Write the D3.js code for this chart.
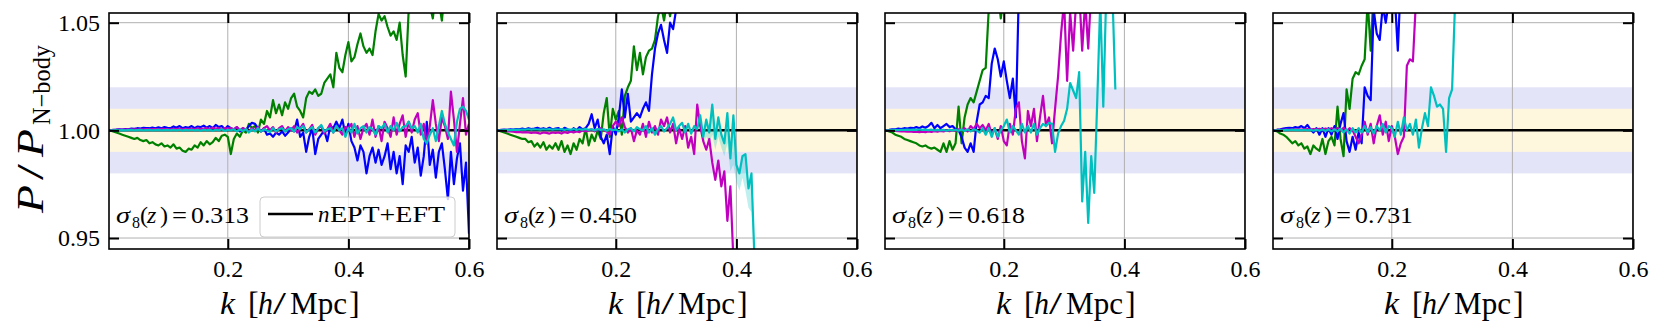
<!DOCTYPE html>
<html>
<head>
<meta charset="utf-8">
<script src="https://cdn.jsdelivr.net/npm/d3@7"></script>
<style>
  html, body { margin: 0; padding: 0; background: #fff; }
  svg { display: block; }
  text { font-family: "Liberation Serif", "Times New Roman", "DejaVu Serif", serif; fill: #000; }
</style>
</head>
<body>
<div id="chart"></div>
<script>
// k bins [h/Mpc], shared by every curve
const kBins = [
  0.005,0.01,0.015,0.02,0.025,0.03,0.035,0.04,0.045,0.05,0.055,0.06,0.065,0.07,0.075,0.08,0.085,0.09,0.095,0.1,
  0.105,0.11,0.115,0.12,0.125,0.13,0.135,0.14,0.145,0.15,0.155,0.16,0.165,0.17,0.175,0.18,0.185,0.19,0.195,0.2,
  0.205,0.21,0.215,0.22,0.225,0.23,0.235,0.24,0.245,0.25,0.255,0.26,0.265,0.27,0.275,0.28,0.285,0.29,0.295,0.3,
  0.305,0.31,0.315,0.32,0.325,0.33,0.335,0.34,0.345,0.35,0.355,0.36,0.365,0.37,0.375,0.38,0.385,0.39,0.395,0.4,
  0.405,0.41,0.415,0.42,0.425,0.43,0.435,0.44,0.445,0.45,0.455,0.46,0.465,0.47,0.475,0.48,0.485,0.49,0.495,0.5,
  0.505,0.51,0.515,0.52,0.525,0.53,0.535,0.54,0.545,0.55,0.555,0.56,0.565,0.57,0.575,0.58,0.585,0.59,0.595,0.6
];

// P/P_N-body - 1, in percent (curves stop once they leave the frame)
// panel 1, sigma8(z)=0.313
const green1 = [
  0,-0.05,-0.1,-0.15,-0.2,-0.25,-0.3,-0.35,-0.4,-0.35,-0.45,-0.5,-0.45,-0.6,-0.55,-0.65,-0.7,-0.6,-0.75,-0.7,
  -0.8,-0.65,-0.85,-0.8,-0.95,-1.0,-0.85,-0.9,-0.7,-0.8,-0.55,-0.7,-0.5,-0.65,-0.55,-0.35,-0.5,-0.25,-0.2,-0.3,
  -1.1,-0.4,-0.15,-0.3,0.0,-0.1,0.3,0.1,0.2,-0.1,0.5,0.3,0.9,0.6,1.4,0.8,1.2,0.7,1.3,1.0,
  1.5,1.7,1.1,0.9,0.6,1.5,1.8,1.7,1.9,1.6,1.7,2.2,2.4,2.6,2.0,3.6,2.9,2.7,3.5,4.1,
  3.2,3.4,4.0,4.5,3.9,3.6,3.8,3.5,4.6,5.4,5.1,5.3,4.8,4.4,4.6,4.2,5.0,3.5,2.5,5.6,
  6.2,5.6,6.5,6.0,6.8,6.2,5.8,5.2,6.4,6.0,5.1,6.5,7.0,7.0,7.0,7.0,7.0,7.0,7.0,7.0
];
const blue1 = [
  0,0.02,0.03,0.05,0.04,0.06,0.05,0.08,0.07,0.1,0.08,0.12,0.1,0.1,0.13,0.1,0.14,0.1,0.15,0.12,
  0.1,0.18,0.12,0.2,0.1,0.15,0.12,0.2,0.1,0.18,0.15,0.22,0.12,0.2,0.1,0.25,0.15,0.2,0.05,0.2,
  0.1,0.05,0.15,-0.05,0.1,0.0,0.2,0.35,0.3,0.1,-0.05,0.1,-0.2,-0.15,-0.3,-0.1,-0.2,-0.05,-0.25,-0.1,
  0.1,-0.05,0.5,-0.3,-0.1,-1.0,-0.3,0.1,-1.1,-0.4,-0.2,0.0,-0.5,0.2,0.1,0.4,0.1,0.5,-0.2,0.3,
  -0.5,-0.8,-1.4,-0.7,-1.0,-2.0,-1.2,-0.8,-1.5,-0.9,-1.6,-1.2,-0.6,-1.8,-1.0,-2.0,-1.2,-2.5,-0.7,-1.0,
  -0.3,-1.5,-0.8,-2.1,-1.2,0.4,-1.6,-0.9,-2.2,-1.0,-0.6,-1.8,-3.2,-1.0,-2.5,-1.3,-0.6,-2.8,-1.5,-4.8
];
const magenta1 = [
  0,0.01,0.02,0.02,0.03,0.03,0.04,0.04,0.05,0.04,0.05,0.05,0.06,0.05,0.06,0.06,0.05,0.07,0.06,0.06,
  0.05,0.07,0.06,0.08,0.05,0.07,0.06,0.08,0.05,0.1,0.06,0.08,0.1,0.05,0.12,0.08,0.1,0.06,0.1,0.08,
  0.1,0.05,0.15,0.0,0.1,0.05,-0.05,0.1,0.0,0.15,-0.05,0.1,0.2,0.0,0.15,-0.1,0.1,0.2,-0.05,0.15,
  0.0,0.2,-0.1,0.1,0.3,-0.1,0.05,0.25,-0.2,0.1,0.2,-0.15,0.05,0.3,-0.1,0.2,0.0,-0.2,0.15,0.1,
  0.3,-0.3,0.2,-0.4,0.1,0.3,-0.2,0.5,-0.3,0.2,-0.5,0.4,0.1,-0.3,0.6,-0.2,0.3,0.7,-0.3,0.4,
  -0.1,0.5,0.8,-0.2,0.3,-0.6,0.2,1.4,0.3,-0.5,0.6,0.2,-0.4,1.8,0.5,-1.0,0.3,1.5,-0.2,0.3
];
const cyan1 = [
  0,0,0.01,0,0.01,0,0.01,0.02,0,0.01,0.02,0,0.01,0.02,0,0.01,0.02,0,0.01,0.02,
  0.0,0.02,0.0,0.03,-0.01,0.02,0.0,0.03,0.0,0.02,-0.02,0.03,0.0,0.02,-0.02,0.03,0.0,0.05,-0.03,0.03,
  0.0,0.05,-0.05,0.05,-0.03,0.06,-0.1,0.05,-0.05,0.1,-0.05,0.05,0.0,-0.08,0.1,-0.05,0.05,0.1,-0.05,0.05,
  0.1,-0.05,0.15,0.05,0.2,-0.1,0.05,0.15,-0.1,0.1,0.25,-0.05,0.05,0.1,-0.1,0.2,0.0,0.1,-0.3,0.1,
  -0.1,0.3,-0.15,0.1,0.2,-0.1,0.15,0.05,-0.2,0.2,0.1,0.3,-0.1,0.2,0.0,0.35,-0.05,0.15,0.2,0.4,
  0.1,0.2,-0.1,0.3,-0.4,-0.6,-0.2,0.1,-0.5,0.2,0.9,0.3,-0.1,-0.4,-0.7,0.4,1.0,1.1,0.9,0.5
];

// panel 2, sigma8(z)=0.450
const green2 = [
  0,-0.05,-0.1,-0.15,-0.2,-0.25,-0.3,-0.35,-0.4,-0.4,-0.55,-0.5,-0.75,-0.6,-0.8,-0.55,-0.9,-0.7,-0.85,-0.6,
  -0.9,-0.5,-1.0,-0.7,-1.1,-0.6,-0.9,-0.4,-0.6,0.1,-0.7,-0.2,-0.5,0.0,-0.4,0.8,1.5,-0.3,1.0,0.5,
  0.9,-0.2,1.6,2.0,2.3,3.9,2.8,3.6,2.6,3.4,3.7,3.8,4.2,5.3,5.8,5.1,6.0,5.3,6.2,5.9,
  6.5,6.0,7.0,5.6,7.0
];
const blue2 = [
  0,0.02,0.03,0.02,0.05,0.04,0.06,0.05,0.08,0.05,0.1,0.06,0.08,0.12,0.06,0.1,0.05,0.12,0.04,0.08,
  0.1,0.0,0.12,0.05,-0.05,0.1,0.0,0.15,0.05,0.1,0.3,0.75,0.1,0.5,-0.3,-0.6,-0.2,-1.1,0.2,-0.2,
  0.6,1.9,0.6,1.7,0.4,0.6,0.8,0.6,1.0,1.3,0.9,2.6,3.8,4.5,4.9,4.2,3.6,5.0,4.7,5.6,
  6.0,6.5
];
const magenta2 = [
  0,-0.02,-0.03,-0.05,-0.05,-0.06,-0.08,-0.07,-0.1,-0.08,-0.1,-0.12,-0.1,-0.12,-0.15,-0.1,-0.12,-0.15,-0.1,-0.12,
  -0.1,-0.15,-0.08,-0.12,-0.05,-0.1,-0.05,-0.08,0.0,-0.05,0.0,0.05,-0.05,0.05,0.1,0.0,-0.05,-0.2,0.2,0.4,
  0.2,0.6,0.15,-0.1,0.1,-0.5,0.0,-0.2,0.3,-0.3,0.4,-0.1,0.2,-0.2,0.5,0.2,0.6,-0.1,0.3,-0.6,
  0.1,-0.4,0.2,-0.8,-0.3,-1.1,1.2,0.2,-0.5,-0.9,-0.4,-1.5,-2.3,-1.4,-2.6,-1.9,-4.2,-2.6,-6.0
];
const cyan2 = [
  0,0,0.01,0.02,0.01,0.02,0.03,0.02,0.04,0.03,0.05,0.03,0.05,0.04,0.03,0.05,0.04,0.06,0.03,0.05,
  0.04,0.06,0.02,0.05,0.03,0.06,0.02,0.05,0.03,0.07,0.02,0.05,0.0,0.06,0.02,0.05,-0.02,0.06,0.0,0.05,
  -0.05,0.05,-0.1,0.05,0.1,-0.05,0.15,0.05,0.0,0.2,-0.1,0.1,-0.2,0.05,0.2,-0.05,0.1,0.3,0.6,0.0,
  0.2,0.35,-0.1,0.3,-0.15,0.2,0.05,0.7,-0.3,0.5,-0.1,1.2,-0.4,0.6,-0.2,-0.6,0.8,-1.3,0.7,-1.6,
  -2.0,-1.2,-1.1,-2.7,-2.0,-6.0
];
// shaded scatter of the cyan curve, panel 2
const cyan2BandK  = [0.34,0.345,0.35,0.355,0.36,0.365,0.37,0.375,0.38,0.385,0.39,0.395,0.4,0.405,0.41,0.415,0.42,0.425,0.43];
const cyan2BandLo = [0.2,-0.6,-0.3,-0.6,-0.2,-0.9,-0.3,-0.8,-1.2,-0.6,-1.9,-1.6,-2.4,-2.8,-2.2,-2.8,-3.6,-3.8,-6.0];
const cyan2BandHi = [0.7,-0.3,0.5,-0.1,1.2,-0.4,0.6,-0.2,-0.6,0.8,-1.3,0.7,-1.6,-2.0,-1.2,-1.1,-2.7,-2.0,-6.0];

// panel 3, sigma8(z)=0.618
const green3 = [
  0,-0.05,-0.1,-0.2,-0.25,-0.3,-0.4,-0.45,-0.5,-0.55,-0.6,-0.7,-0.75,-0.7,-0.8,-0.85,-0.8,-0.9,-1.0,-0.6,
  -1.0,-0.5,-0.9,-0.6,1.1,-0.6,0.6,1.2,1.5,1.3,1.8,2.3,2.8,2.9,5.6,6.0,5.5,6.5,5.2,6.2,
  7.0
];
const blue3 = [
  0,0.02,0.05,0.05,0.08,0.06,0.1,0.08,0.12,0.1,0.15,0.1,0.18,0.12,0.2,0.35,0.1,0.25,0.1,0.2,
  0.3,0.15,0.2,0.05,0.0,-0.3,-0.8,-1.0,-0.6,-1.0,0.4,1.2,1.3,1.6,1.5,3.1,3.8,3.3,2.5,3.2,
  2.3,1.5,2.4,0.6,6.5
];
const magenta3 = [
  0,-0.01,-0.02,-0.03,-0.04,-0.05,-0.05,-0.06,-0.05,-0.07,-0.06,-0.08,-0.06,-0.08,-0.05,-0.07,-0.04,-0.06,-0.03,-0.05,
  0.0,-0.04,0.02,-0.02,0.05,0.0,0.1,-0.05,0.2,0.05,0.3,0.1,0.25,0.0,0.3,-0.2,0.1,-0.4,0.2,-0.5,
  -0.7,0.3,-0.2,1.0,1.3,-0.5,-1.3,0.9,0.2,1.0,-0.5,0.6,1.6,0.2,0.6,-0.6,1.0,2.5,4.5,6.0,
  2.3,5.5,3.7,6.0,6.5,3.7,6.0,3.8,6.5,7.0
];
const cyan3 = [
  0,0,0.01,0.02,0.01,0.02,0.02,0.03,0.02,0.03,0.02,0.04,0.02,0.03,0.01,0.03,0.0,0.02,0.0,0.02,
  -0.02,0.02,0.0,0.03,-0.02,0.04,-0.03,0.05,-0.05,0.05,0.0,-0.1,0.1,-0.2,0.1,-0.3,0.1,-0.3,0.0,0.2,
  0.5,-0.1,0.2,0.0,-0.2,0.3,-0.1,0.2,-0.1,0.3,-0.2,0.1,0.3,0.2,0.35,0.3,-1.0,-0.15,0.2,0.45,
  1.0,2.2,1.85,1.5,2.7,-3.3,-1.0,-4.3,-1.2,-2.9,1.4,6.0,1.1,6.5,7.0,6.5,1.9
];

// panel 4, sigma8(z)=0.731
const green4 = [
  0,-0.05,-0.15,-0.2,-0.3,-0.45,-0.6,-0.5,-0.7,-0.6,-0.85,-0.75,-1.1,-0.7,-0.85,-0.95,-0.4,-1.1,-0.5,-0.3,
  -0.7,1.1,-0.4,-1.2,1.9,1.0,2.4,2.7,2.6,3.0,3.3,6.0,3.7,6.5
];
const blue4 = [
  0,0.03,0.05,0.08,0.1,0.12,0.1,0.15,0.12,0.2,0.1,0.25,0.05,-0.1,0.1,-0.2,0.1,-0.3,0.1,-0.2,
  0.2,-0.4,0.3,0.8,-0.5,-1.0,-0.3,-0.9,-0.1,-0.6,2.0,1.6,1.4,5.6,4.5,4.2,5.8,5.0,6.0,5.5,
  6.2,3.7,7.0
];
const magenta4 = [
  0,0.01,0.02,0.02,0.03,0.03,0.04,0.03,0.05,0.04,0.05,0.06,0.04,0.06,0.05,0.07,0.04,0.08,0.05,0.1,
  0.05,0.1,0.0,0.12,-0.05,0.1,0.0,-0.3,-0.6,-0.2,0.4,-0.2,0.3,-0.6,0.2,0.7,-0.2,0.4,-0.5,0.2,
  -0.3,-1.1,-0.6,-0.3,3.0,3.3,3.2,6.0
];
const cyan4 = [
  0,0,0.01,0.0,0.02,0.01,0.03,0.01,0.02,0.0,0.03,0.0,0.02,-0.02,0.03,-0.02,0.04,-0.03,0.05,-0.05,
  0.05,-0.05,0.08,-0.1,0.05,-0.15,0.1,-0.1,0.1,-0.1,0.2,-0.1,0.15,-0.15,0.2,0.0,0.3,-0.1,0.2,0.1,
  -0.3,0.4,-0.2,0.6,0.0,0.3,-0.2,0.5,-0.8,0.1,0.8,0.2,2.0,1.6,1.1,1.2,1.0,-1.0,1.5,1.9,
  6.0
];

const sigma8Labels = ['0.313', '0.450', '0.618', '0.731'];
const panelCurves = [
  [green1, blue1, magenta1, cyan1],
  [green2, blue2, magenta2, cyan2],
  [green3, blue3, magenta3, cyan3],
  [green4, blue4, magenta4, cyan4]
];
const curveColors = ['#008000', '#0000ff', '#bf00bf', '#00bfbf'];
const xTicks = [0.2, 0.4, 0.6];
const yTicks = [-5, 0, 5];          // 0.95, 1.00, 1.05
const outerBand = [-2, 2];          // 2 % band
const innerBand = [-1, 1];          // 1 % band
const legendLabel = 'EPT+EFT';

// layout
const W = 1661, H = 335;
const left0 = 109, top0 = 13, panelW = 360, panelH = 236, gap = 28;
const kDomain = [0.003, 0.6];
const ratioDomain = [-5.51, 5.45];

const svg = d3.select('#chart').append('svg')
  .attr('width', W)
  .attr('height', H);

const x = d3.scaleLinear().domain(kDomain).range([0, panelW]);
const y = d3.scaleLinear().domain(ratioDomain).range([panelH, 0]);

const line = d3.line()
  .x((d, j) => x(kBins[j]))
  .y(d => y(d));

function styleTicks(sel) {
  sel.attr('font-family', null).attr('font-size', null);
  sel.select('.domain').remove();
  sel.selectAll('.tick line').attr('stroke', '#000').attr('stroke-width', 2);
  sel.selectAll('.tick text')
    .attr('fill', '#000')
    .style('font-size', '24px');
}

function addPiece(txt, x0, y0, str, opts = {}) {
  const t = txt.append('tspan')
    .attr('x', x0)
    .attr('y', y0)
    .text(str);
  if (opts.italic) t.style('font-style', 'italic');
  if (opts.size) t.style('font-size', opts.size + 'px');
  if (opts.len) t.attr('textLength', opts.len).attr('lengthAdjust', 'spacingAndGlyphs');
  return t;
}

panelCurves.forEach((curves, i) => {
  const px = left0 + i * (panelW + gap);
  const g = svg.append('g').attr('transform', `translate(${px},${top0})`);

  const clipId = 'clip' + i;
  g.append('clipPath').attr('id', clipId)
    .append('rect').attr('width', panelW).attr('height', panelH);

  const plot = g.append('g').attr('clip-path', `url(#${clipId})`);

  // tolerance bands
  plot.append('rect')
    .attr('x', 0).attr('width', panelW)
    .attr('y', y(outerBand[1])).attr('height', y(outerBand[0]) - y(outerBand[1]))
    .attr('fill', '#e4e4f8');
  plot.append('rect')
    .attr('x', 0).attr('width', panelW)
    .attr('y', y(innerBand[1])).attr('height', y(innerBand[0]) - y(innerBand[1]))
    .attr('fill', '#fef6dd');

  // grid
  plot.selectAll('.vgrid').data(xTicks).enter().append('line')
    .attr('x1', d => x(d)).attr('x2', d => x(d))
    .attr('y1', 0).attr('y2', panelH)
    .attr('stroke', '#b0b0b0').attr('stroke-width', 1);
  plot.selectAll('.hgrid').data(yTicks).enter().append('line')
    .attr('x1', 0).attr('x2', panelW)
    .attr('y1', d => y(d)).attr('y2', d => y(d))
    .attr('stroke', '#b0b0b0').attr('stroke-width', 1);

  // reference nEPT+EFT
  plot.append('line')
    .attr('x1', x(kDomain[0])).attr('x2', x(kDomain[1]))
    .attr('y1', y(0)).attr('y2', y(0))
    .attr('stroke', '#000').attr('stroke-width', 2.5);

  if (i === 1) {
    const band = d3.area()
      .x((d, j) => x(cyan2BandK[j]))
      .y0((d, j) => y(cyan2BandLo[j]))
      .y1((d, j) => y(cyan2BandHi[j]));
    plot.append('path')
      .attr('d', band(cyan2BandK))
      .attr('fill', '#00bfbf')
      .attr('fill-opacity', 0.25);
  }

  curves.forEach((vals, s) => {
    plot.append('path')
      .attr('d', line(vals))
      .attr('fill', 'none')
      .attr('stroke', curveColors[s])
      .attr('stroke-width', 2.2)
      .attr('stroke-linejoin', 'round');
  });

  // axes with inward ticks
  const fmt = v => (1 + v / 100).toFixed(2);
  g.append('g').attr('transform', `translate(0,${panelH})`)
    .call(d3.axisBottom(x).tickValues(xTicks).tickSize(-10).tickPadding(11).tickFormat(d3.format('.1f')))
    .call(styleTicks);
  g.append('g')
    .call(d3.axisTop(x).tickValues(xTicks).tickSize(-10).tickFormat(''))
    .call(styleTicks);
  g.append('g')
    .call(d3.axisLeft(y).tickValues(yTicks).tickSize(-10).tickPadding(9).tickFormat(i === 0 ? fmt : ''))
    .call(styleTicks);
  g.append('g').attr('transform', `translate(${panelW},0)`)
    .call(d3.axisRight(y).tickValues(yTicks).tickSize(-10).tickFormat(''))
    .call(styleTicks);

  g.append('rect')
    .attr('width', panelW).attr('height', panelH)
    .attr('fill', 'none').attr('stroke', '#000').attr('stroke-width', 1.6);

  // sigma8 annotation
  const ann = g.append('text').style('font-size', '24px');
  const ay = 210;
  addPiece(ann, 7, ay, 'σ', { italic: true, len: 14 });
  addPiece(ann, 23, ay + 5, '8', { size: 16 });
  addPiece(ann, 31, ay, '(');
  addPiece(ann, 38, ay, 'z', { italic: true });
  addPiece(ann, 51, ay, ')');
  addPiece(ann, 63, ay, '=', { len: 15 });
  addPiece(ann, 82, ay, sigma8Labels[i], { len: 58 });

  // x label
  const xl = svg.append('text').style('font-size', '32px');
  const cx = px + panelW / 2, by = 314;
  addPiece(xl, cx - 69, by, 'k', { italic: true, len: 15 });
  addPiece(xl, cx - 41, by, '[');
  addPiece(xl, cx - 31, by, 'h', { italic: true, len: 15 });
  addPiece(xl, cx - 16, by, '/', { len: 13 });
  addPiece(xl, cx + 1, by, 'Mpc', { len: 57 });
  addPiece(xl, cx + 60, by, ']');

  if (i === 0) {
    // legend
    const lg = g.append('g');
    lg.append('rect')
      .attr('x', 260 - px).attr('y', 197 - top0)
      .attr('width', 195).attr('height', 40)
      .attr('rx', 4)
      .attr('fill', '#fff').attr('fill-opacity', 0.8)
      .attr('stroke', '#cccccc').attr('stroke-width', 1);
    lg.append('line')
      .attr('x1', 268 - px).attr('x2', 313 - px)
      .attr('y1', 214 - top0).attr('y2', 214 - top0)
      .attr('stroke', '#000').attr('stroke-width', 2.5);
    const lt = lg.append('text').style('font-size', '23px');
    addPiece(lt, 318 - px, 222 - top0, 'n', { italic: true });
    addPiece(lt, 330 - px, 222 - top0, legendLabel, { len: 115 });
  }
});

// y label, rotated
const yl = svg.append('g').attr('transform', 'translate(43,213) rotate(-90)');
const ylt = yl.append('text').style('font-size', '38px');
addPiece(ylt, 0, 0, 'P', { italic: true, len: 28 });
addPiece(ylt, 33, 0, '/', { len: 16 });
addPiece(ylt, 56, 0, 'P', { italic: true, len: 28 });
const ysub = yl.append('text').style('font-size', '25px');
addPiece(ysub, 88, 7, 'N−body', { len: 80 });
</script>
</body>
</html>
